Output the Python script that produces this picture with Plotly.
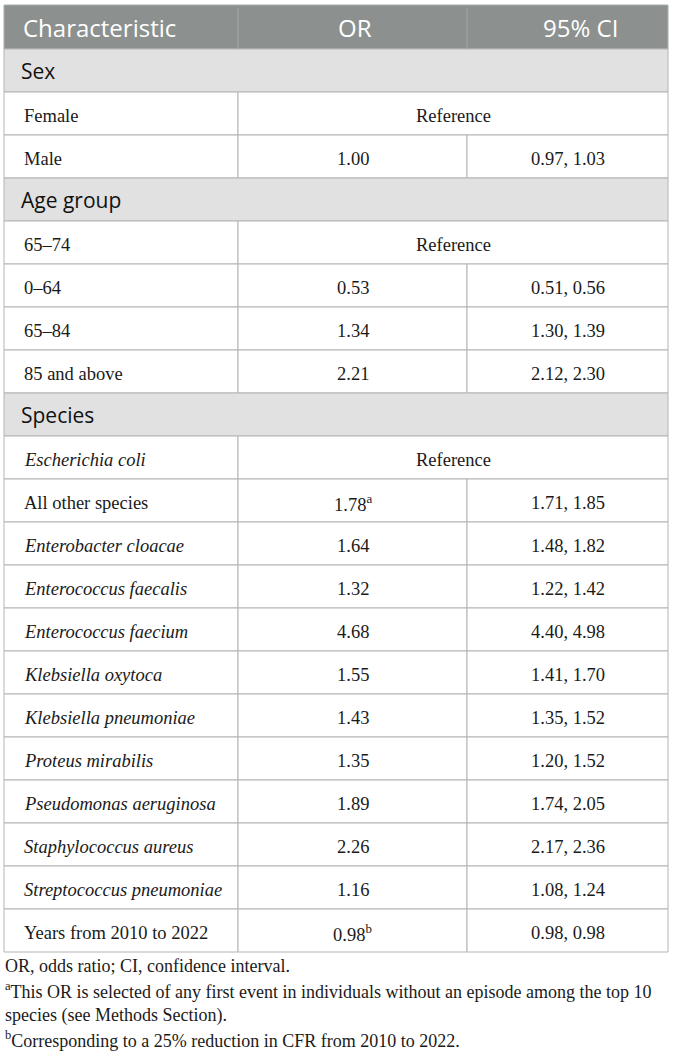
import plotly.graph_objects as go

# Table content
columns = ["Characteristic", "OR", "95% CI"]
row_groups = ["Sex", "Sex",
              "Age group", "Age group", "Age group", "Age group",
              "Species", "Species", "Species", "Species", "Species", "Species",
              "Species", "Species", "Species", "Species", "Species", "Species"]
row_labels = ["Female", "Male",
              "65–74", "0–64", "65–84", "85 and above",
              "Escherichia coli", "All other species", "Enterobacter cloacae",
              "Enterococcus faecalis", "Enterococcus faecium", "Klebsiella oxytoca",
              "Klebsiella pneumoniae", "Proteus mirabilis", "Pseudomonas aeruginosa",
              "Staphylococcus aureus", "Streptococcus pneumoniae", "Years from 2010 to 2022"]
row_italic = [False, False,
              False, False, False, False,
              True, False, True, True, True, True,
              True, True, True, True, True, False]
or_values = [None, 1.00,
             None, 0.53, 1.34, 2.21,
             None, 1.78, 1.64, 1.32, 4.68, 1.55, 1.43, 1.35, 1.89, 2.26, 1.16, 0.98]
or_marks = ["", "",
            "", "", "", "",
            "", "a", "", "", "", "", "", "", "", "", "", "b"]
ci_low = [None, 0.97,
          None, 0.51, 1.30, 2.12,
          None, 1.71, 1.48, 1.22, 4.40, 1.41, 1.35, 1.20, 1.74, 2.17, 1.08, 0.98]
ci_high = [None, 1.03,
           None, 0.56, 1.39, 2.30,
           None, 1.85, 1.82, 1.42, 4.98, 1.70, 1.52, 1.52, 2.05, 2.36, 1.24, 0.98]
reference_text = "Reference"
footnotes = [
    "OR, odds ratio; CI, confidence interval.",
    "<sup>a</sup>This OR is selected of any first event in individuals without an episode among the top 10",
    "species (see Methods Section).",
    "<sup>b</sup>Corresponding to a 25% reduction in CFR from 2010 to 2022.",
]

# Geometry / style
W, H = 673, 1058
col_x = [4, 238, 467, 668]
top = 5
header_h = 44
row_h = 43
head_bg = "#8c9190"
section_bg = "#e0e1e0"
border = "#b4b4b4"
text_col = "#1a1a1a"
sans = "Open Sans"
serif = "Liberation Serif"
body_size = 18.5

# Build the row sequence (section rows get inserted when group changes)
rows = []
prev = None
for i, g in enumerate(row_groups):
    if g != prev and i != len(row_groups) - 1:
        rows.append(("section", g))
        prev = g
    rows.append(("data", i))

shapes = []
annotations = []


def rect(x0, x1, y0, y1, fill, line=border):
    shapes.append(dict(type="rect", xref="x", yref="y", x0=x0, x1=x1, y0=y0, y1=y1,
                       fillcolor=fill, line=dict(color=line, width=1), layer="below"))


def text(x, y, s, size, font, color=text_col, anchor="center"):
    annotations.append(dict(x=x, y=y, xref="x", yref="y", text=s, showarrow=False,
                            xanchor=anchor, yanchor="middle",
                            font=dict(family=font, size=size, color=color)))


# header
y0, y1 = top, top + header_h
rect(col_x[0], col_x[3], y0, y1, head_bg, line="#a9adac")
for c in (1, 2):
    shapes.append(dict(type="line", xref="x", yref="y", x0=col_x[c], x1=col_x[c],
                       y0=y0 + 3, y1=y1, line=dict(color="#a3a8a7", width=1)))
ym = (y0 + y1) / 2
text(col_x[0] + 17, ym, columns[0], 24, sans, "white", "left")
text((col_x[1] + col_x[2]) / 2 + 2, ym, columns[1], 24, sans, "white")
text(620, ym, columns[2], 24, sans, "white", "right")

y = y1
for kind, val in rows:
    ya, yb = y, y + row_h
    ym = (ya + yb) / 2
    if kind == "section":
        rect(col_x[0], col_x[3], ya, yb, section_bg)
        text(col_x[0] + 15, ym, val, 21, sans, "#111111", "left")
    else:
        i = val
        label = f"<i>{row_labels[i]}</i>" if row_italic[i] else row_labels[i]
        rect(col_x[0], col_x[1], ya, yb, "white")
        if or_values[i] is None:
            rect(col_x[1], col_x[3], ya, yb, "white")
            text((col_x[1] + col_x[3]) / 2, ym + 2, reference_text, body_size, serif)
        else:
            rect(col_x[1], col_x[2], ya, yb, "white")
            rect(col_x[2], col_x[3], ya, yb, "white")
            s = f"{or_values[i]:.2f}"
            if or_marks[i]:
                s += f"<sup>{or_marks[i]}</sup>"
            text((col_x[1] + col_x[2]) / 2, ym + 2, s, body_size, serif)
            text((col_x[2] + col_x[3]) / 2, ym + 2, f"{ci_low[i]:.2f}, {ci_high[i]:.2f}",
                 body_size, serif)
        text(col_x[0] + 18, ym + 2, label, body_size, serif, text_col, "left")
    y = yb

# footnotes
fy = y + 14
for k, line in enumerate(footnotes):
    text(col_x[0] - 1, fy + k * 24.5, line, 18, serif, text_col, "left")

fig = go.Figure()
fig.update_layout(
    width=W, height=H,
    margin=dict(l=0, r=0, t=0, b=0),
    paper_bgcolor="white", plot_bgcolor="white",
    xaxis=dict(range=[0, W], visible=False, fixedrange=True),
    yaxis=dict(range=[H, 0], visible=False, fixedrange=True),
    shapes=shapes, annotations=annotations, showlegend=False,
)
fig.write_html("out.html", config={"displayModeBar": False},
               post_script="document.body.style.margin='0';document.body.style.overflow='hidden';")
